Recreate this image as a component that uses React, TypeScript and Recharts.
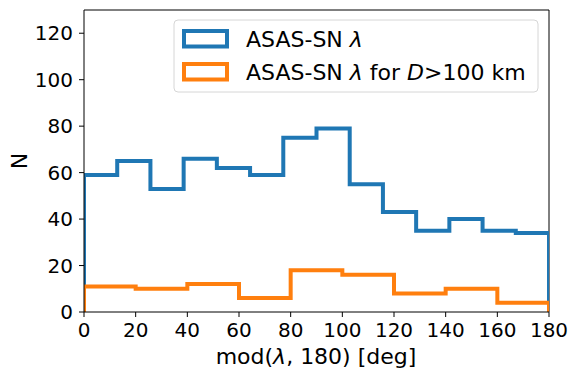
import { LineChart, Line, XAxis, YAxis, ReferenceLine } from "recharts";

const BLUE_COUNTS = [59, 65, 53, 66, 62, 59, 75, 79, 55, 43, 35, 40, 35, 34];
const ORANGE_COUNTS = [11, 10, 12, 6, 18, 16, 8, 10, 4];
const X_TICKS = [0, 20, 40, 60, 80, 100, 120, 140, 160, 180];
const Y_TICKS = [0, 20, 40, 60, 80, 100, 120];
const X_MAX = 180;
const Y_MAX = 130;

const BLUE = "#1f77b4";
const ORANGE = "#ff7f0e";
const FONT = "'DejaVu Sans', sans-serif";

// histogram outline: up from 0, across each bin, back down at the end
function toSteps(counts: number[]) {
  const w = X_MAX / counts.length;
  const pts = [{ x: 0, y: 0 }];
  counts.forEach((c, i) => pts.push({ x: i * w, y: c }));
  pts.push({ x: X_MAX, y: counts[counts.length - 1] });
  pts.push({ x: X_MAX, y: 0 });
  return pts;
}

const blueSteps = toSteps(BLUE_COUNTS);
const orangeSteps = toSteps(ORANGE_COUNTS);

function LegendBox() {
  return (
    <g fontFamily={FONT} fontSize={22} fill="#000">
      <rect x={174} y={20} width={364} height={72} rx={4} fill="#fff" fillOpacity={0.8} stroke="#d6d6d6" />
      <rect x={184} y={31} width={43} height={15.5} fill="none" stroke={BLUE} strokeWidth={4} />
      <rect x={184} y={64} width={43} height={15.5} fill="none" stroke={ORANGE} strokeWidth={4} />
      <text x={246} y={39} dominantBaseline="central">
        ASAS-SN <tspan fontStyle="italic">λ</tspan>
      </text>
      <text x={246} y={72} dominantBaseline="central">
        ASAS-SN <tspan fontStyle="italic">λ</tspan> for <tspan fontStyle="italic">D</tspan>&gt;100 km
      </text>
    </g>
  );
}

export default function App() {
  return (
    <div style={{ position: "absolute", left: 0, top: 0, background: "#fff" }}>
      <LineChart
        width={578}
        height={380}
        margin={{ top: 10, right: 29, left: 0, bottom: 38 }}
      >
        <XAxis
          type="number"
          dataKey="x"
          domain={[0, X_MAX]}
          ticks={X_TICKS}
          allowDataOverflow
          height={30}
          tickSize={5}
          tickMargin={6}
          tick={{ fill: "#000", fontSize: 20, fontFamily: FONT }}
          tickLine={{ stroke: "#000" }}
          axisLine={{ stroke: "#000" }}
        />
        <YAxis
          type="number"
          dataKey="y"
          domain={[0, Y_MAX]}
          ticks={Y_TICKS}
          allowDataOverflow
          width={84}
          tickSize={5}
          tickMargin={6}
          tick={{ fill: "#000", fontSize: 20, fontFamily: FONT }}
          tickLine={{ stroke: "#000" }}
          axisLine={{ stroke: "#000" }}
        />
        <ReferenceLine y={Y_MAX} stroke="#000" strokeWidth={1} />
        <ReferenceLine x={X_MAX} stroke="#000" strokeWidth={1} />
        <Line
          data={blueSteps}
          dataKey="y"
          type="stepAfter"
          stroke={BLUE}
          strokeWidth={4}
          strokeLinejoin="miter"
          dot={false}
          activeDot={false}
          isAnimationActive={false}
        />
        <Line
          data={orangeSteps}
          dataKey="y"
          type="stepAfter"
          stroke={ORANGE}
          strokeWidth={4}
          strokeLinejoin="miter"
          dot={false}
          activeDot={false}
          isAnimationActive={false}
        />
        <LegendBox />
        <text x={316} y={364} textAnchor="middle" fontFamily={FONT} fontSize={22} fill="#000">
          mod(<tspan fontStyle="italic">λ</tspan>, 180) [deg]
        </text>
        <text
          x={26.5}
          y={161}
          textAnchor="middle"
          transform="rotate(-90, 26.5, 161)"
          fontFamily={FONT}
          fontSize={22}
          fill="#000"
        >
          N
        </text>
      </LineChart>
    </div>
  );
}
